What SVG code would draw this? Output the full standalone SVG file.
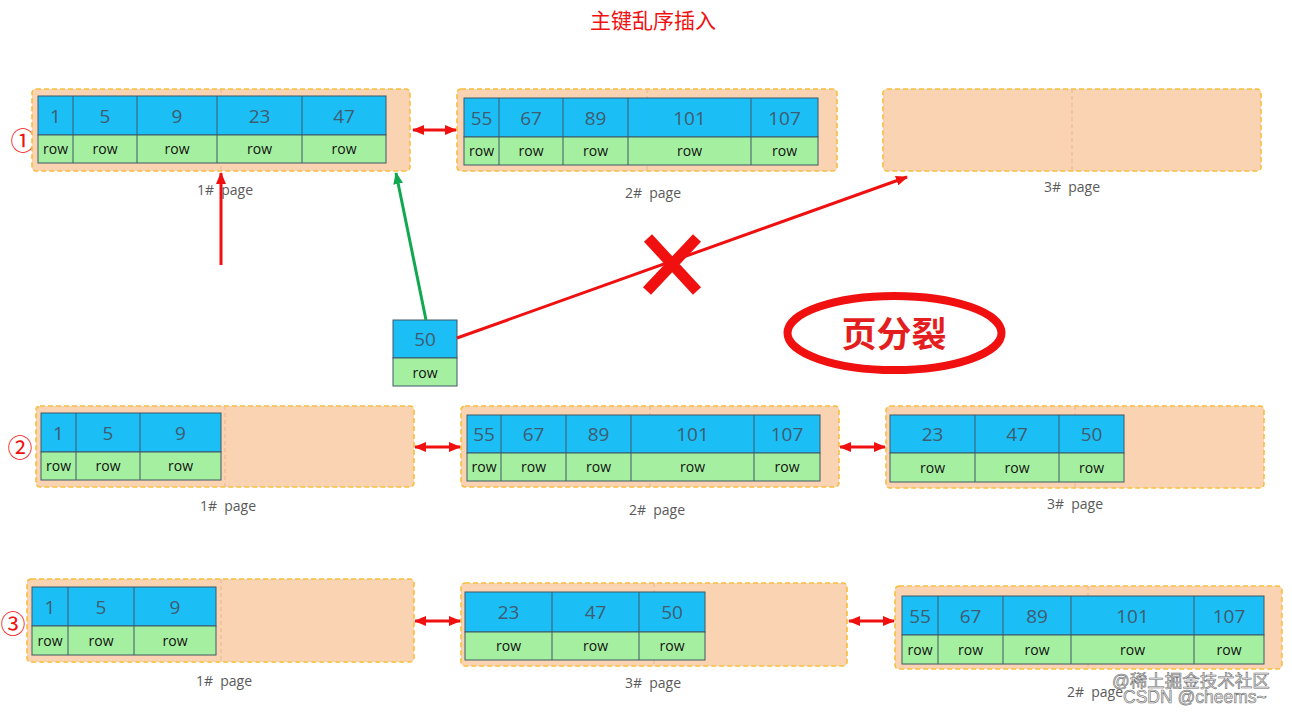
<svg xmlns="http://www.w3.org/2000/svg" width="1292" height="712" viewBox="0 0 1292 712">
<style>
.pg{fill:#F9D3B2;stroke:#F7BE3C;stroke-width:1.6;stroke-dasharray:5 3}
.md{stroke:#EDB48C;stroke-width:1;stroke-dasharray:4 3}
.k{fill:#1BBFF6;stroke:#3E5866;stroke-width:1}
.r{fill:#A5F0A0;stroke:#3E5866;stroke-width:1}
.cl{stroke:#3E5866;stroke-width:1}
.n{font-family:"Open Sans","Noto Sans",sans-serif;font-size:19px;fill:#3F5C70;text-anchor:middle}
.w{font-family:"Open Sans","Noto Sans",sans-serif;font-size:14px;fill:#111;text-anchor:middle}
.lb{font-family:"Open Sans","Noto Sans",sans-serif;font-size:14px;fill:#5A5A5A;text-anchor:middle;white-space:pre}
.ci{font-family:"Noto Sans CJK SC",sans-serif;font-size:25px;fill:#F01010;text-anchor:middle}
.rl{stroke:#F01010;stroke-width:3;fill:none}
</style>
<defs>
<marker id="ah" markerUnits="userSpaceOnUse" markerWidth="12" markerHeight="10" refX="11" refY="5" orient="auto-start-reverse">
<path d="M0,0 L12,5 L0,10 Z" fill="#F01010"/>
</marker>
<marker id="ag" markerUnits="userSpaceOnUse" markerWidth="12" markerHeight="10" refX="11" refY="5" orient="auto">
<path d="M0,0 L12,5 L0,10 Z" fill="#10A850"/>
</marker>
</defs>
<rect width="1292" height="712" fill="#fff"/>

<text id="title" x="653" y="28" font-family="Noto Sans CJK SC,sans-serif" font-size="21" fill="#F01010" text-anchor="middle">主键乱序插入</text>

<g id="marks">
<text class="ci" x="23" y="150">①</text>
<text class="ci" x="20" y="457">②</text>
<text class="ci" x="13" y="633">③</text>
</g>

<!-- Row 1 -->
<g id="r1p1">
<rect class="pg" x="32" y="89" width="378" height="82" rx="4"/>
<line class="md" x1="221" y1="89" x2="221" y2="171"/>
<rect class="k" x="38" y="96" width="348" height="39"/>
<rect class="r" x="38" y="135" width="348" height="28"/>
<path class="cl" d="M73,96V163M137,96V163M217,96V163M302,96V163"/>
<text class="n" x="55.5" y="122.5">1</text><text class="n" x="105" y="122.5">5</text><text class="n" x="177" y="122.5">9</text><text class="n" x="259.5" y="122.5">23</text><text class="n" x="344" y="122.5">47</text>
<text class="w" x="55.5" y="154">row</text><text class="w" x="105" y="154">row</text><text class="w" x="177" y="154">row</text><text class="w" x="259.5" y="154">row</text><text class="w" x="344" y="154">row</text>
<text class="lb" x="225" y="195" xml:space="preserve">1#  page</text>
</g>
<g id="r1p2">
<rect class="pg" x="457" y="89" width="380" height="82" rx="4"/>
<line class="md" x1="647" y1="89" x2="647" y2="171"/>
<rect class="k" x="464" y="98" width="354" height="39"/>
<rect class="r" x="464" y="137" width="354" height="28"/>
<path class="cl" d="M499,98V165M563,98V165M628,98V165M751,98V165"/>
<text class="n" x="481.5" y="124.5">55</text><text class="n" x="531" y="124.5">67</text><text class="n" x="595.5" y="124.5">89</text><text class="n" x="689.5" y="124.5">101</text><text class="n" x="784.5" y="124.5">107</text>
<text class="w" x="481.5" y="156">row</text><text class="w" x="531" y="156">row</text><text class="w" x="595.5" y="156">row</text><text class="w" x="689.5" y="156">row</text><text class="w" x="784.5" y="156">row</text>
<text class="lb" x="653" y="198" xml:space="preserve">2#  page</text>
</g>
<g id="r1p3">
<rect class="pg" x="883" y="89" width="378" height="82" rx="4"/>
<line class="md" x1="1072" y1="89" x2="1072" y2="171"/>
<text class="lb" x="1072" y="192" xml:space="preserve">3#  page</text>
</g>

<g id="new50">
<rect class="k" x="393" y="320" width="64" height="38"/>
<rect class="r" x="393" y="358" width="64" height="28"/>
<text class="n" x="425" y="346">50</text>
<text class="w" x="425" y="378">row</text>
</g>

<g id="split">
<path d="M648,238L697,291M697,238L647,291" stroke="#F01010" stroke-width="11" fill="none"/>
<ellipse cx="894.5" cy="333" rx="107" ry="37" fill="none" stroke="#F01010" stroke-width="8"/>
<text x="894" y="347" font-family="Noto Sans CJK SC,sans-serif" font-size="35" font-weight="bold" fill="#E41E1E" text-anchor="middle">页分裂</text>
</g>

<!-- Row 2 -->
<g id="r2p1">
<rect class="pg" x="36" y="406" width="378" height="81" rx="4"/>
<line class="md" x1="225" y1="406" x2="225" y2="487"/>
<rect class="k" x="41" y="413" width="180" height="39"/>
<rect class="r" x="41" y="452" width="180" height="28"/>
<path class="cl" d="M76,413V480M140,413V480"/>
<text class="n" x="58.5" y="439.5">1</text><text class="n" x="108" y="439.5">5</text><text class="n" x="180.5" y="439.5">9</text>
<text class="w" x="58.5" y="471">row</text><text class="w" x="108" y="471">row</text><text class="w" x="180.5" y="471">row</text>
<text class="lb" x="228" y="511" xml:space="preserve">1#  page</text>
</g>
<g id="r2p2">
<rect class="pg" x="461" y="406" width="378" height="81" rx="4"/>
<line class="md" x1="650" y1="406" x2="650" y2="487"/>
<rect class="k" x="467" y="415" width="353" height="38"/>
<rect class="r" x="467" y="453" width="353" height="28"/>
<path class="cl" d="M501,415V481M566,415V481M631,415V481M754,415V481"/>
<text class="n" x="484" y="441">55</text><text class="n" x="533.5" y="441">67</text><text class="n" x="598.5" y="441">89</text><text class="n" x="692.5" y="441">101</text><text class="n" x="787" y="441">107</text>
<text class="w" x="484" y="472">row</text><text class="w" x="533.5" y="472">row</text><text class="w" x="598.5" y="472">row</text><text class="w" x="692.5" y="472">row</text><text class="w" x="787" y="472">row</text>
<text class="lb" x="657" y="515" xml:space="preserve">2#  page</text>
</g>
<g id="r2p3">
<rect class="pg" x="886" y="406" width="378" height="82" rx="4"/>
<line class="md" x1="1075" y1="406" x2="1075" y2="488"/>
<rect class="k" x="890" y="415" width="234" height="38"/>
<rect class="r" x="890" y="453" width="234" height="29"/>
<path class="cl" d="M975,415V482M1059,415V482"/>
<text class="n" x="932.5" y="441">23</text><text class="n" x="1017" y="441">47</text><text class="n" x="1091.5" y="441">50</text>
<text class="w" x="932.5" y="472.5">row</text><text class="w" x="1017" y="472.5">row</text><text class="w" x="1091.5" y="472.5">row</text>
<text class="lb" x="1075" y="509" xml:space="preserve">3#  page</text>
</g>

<!-- Row 3 -->
<g id="r3p1">
<rect class="pg" x="27" y="579" width="387" height="83" rx="4"/>
<line class="md" x1="221" y1="579" x2="221" y2="662"/>
<rect class="k" x="32" y="587" width="184" height="39"/>
<rect class="r" x="32" y="626" width="184" height="29"/>
<path class="cl" d="M68,587V655M134,587V655"/>
<text class="n" x="50" y="613.5">1</text><text class="n" x="101" y="613.5">5</text><text class="n" x="175" y="613.5">9</text>
<text class="w" x="50" y="645.5">row</text><text class="w" x="101" y="645.5">row</text><text class="w" x="175" y="645.5">row</text>
<text class="lb" x="224" y="686" xml:space="preserve">1#  page</text>
</g>
<g id="r3p3">
<rect class="pg" x="461" y="583" width="386" height="83" rx="4"/>
<line class="md" x1="654" y1="583" x2="654" y2="666"/>
<rect class="k" x="465" y="592" width="240" height="40"/>
<rect class="r" x="465" y="632" width="240" height="28"/>
<path class="cl" d="M552,592V660M639,592V660"/>
<text class="n" x="508.5" y="619">23</text><text class="n" x="595.5" y="619">47</text><text class="n" x="672" y="619">50</text>
<text class="w" x="508.5" y="651">row</text><text class="w" x="595.5" y="651">row</text><text class="w" x="672" y="651">row</text>
<text class="lb" x="653" y="688" xml:space="preserve">3#  page</text>
</g>
<g id="r3p2">
<rect class="pg" x="895" y="586" width="387" height="83" rx="4"/>
<line class="md" x1="1088" y1="586" x2="1088" y2="669"/>
<rect class="k" x="902" y="596" width="362" height="39"/>
<rect class="r" x="902" y="635" width="362" height="29"/>
<path class="cl" d="M938,596V664M1003,596V664M1071,596V664M1194,596V664"/>
<text class="n" x="920" y="622.5">55</text><text class="n" x="970.5" y="622.5">67</text><text class="n" x="1037" y="622.5">89</text><text class="n" x="1132.5" y="622.5">101</text><text class="n" x="1229" y="622.5">107</text>
<text class="w" x="920" y="654.5">row</text><text class="w" x="970.5" y="654.5">row</text><text class="w" x="1037" y="654.5">row</text><text class="w" x="1132.5" y="654.5">row</text><text class="w" x="1229" y="654.5">row</text>
<text class="lb" x="1095" y="697" xml:space="preserve">2#  page</text>
</g>

<g id="connectors">
<line class="rl" x1="413" y1="130" x2="456" y2="130" marker-start="url(#ah)" marker-end="url(#ah)"/>
<line class="rl" x1="415" y1="447" x2="460" y2="447" marker-start="url(#ah)" marker-end="url(#ah)"/>
<line class="rl" x1="840" y1="447" x2="885" y2="447" marker-start="url(#ah)" marker-end="url(#ah)"/>
<line class="rl" x1="415" y1="621" x2="460" y2="621" marker-start="url(#ah)" marker-end="url(#ah)"/>
<line class="rl" x1="849" y1="621" x2="894" y2="621" marker-start="url(#ah)" marker-end="url(#ah)"/>
<line class="rl" x1="221" y1="265" x2="221" y2="173" marker-end="url(#ah)"/>
<line x1="426" y1="320" x2="396" y2="173" stroke="#10A850" stroke-width="3" marker-end="url(#ag)"/>
<line class="rl" x1="457" y1="338" x2="907" y2="177" marker-end="url(#ah)"/>
</g>

<g id="watermark" font-family="Liberation Sans,Noto Sans CJK SC,sans-serif" font-size="17.5" fill="#EDEDED" stroke="#6E6E6E" stroke-width="0.6">
<text x="1112" y="687">@稀土掘金技术社区</text>
<text x="1123" y="703">CSDN @cheems~</text>
</g>
</svg>
